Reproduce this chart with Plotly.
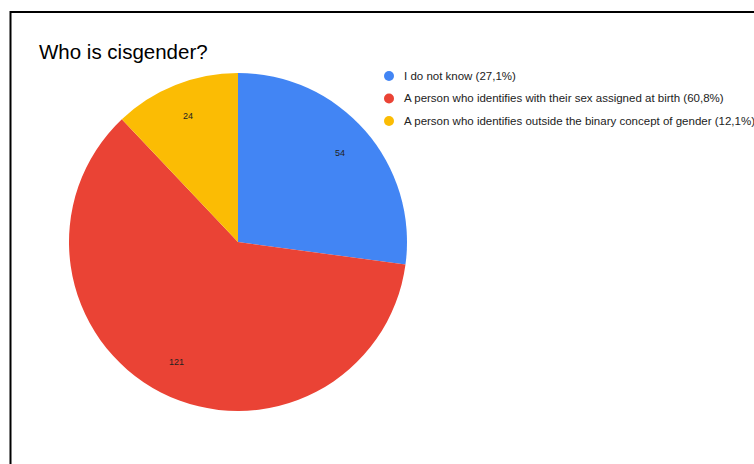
import math
import plotly.graph_objects as go

# Survey answers to "Who is cisgender?"
categories = [
    "I do not know",
    "A person who identifies with their sex assigned at birth",
    "A person who identifies outside the binary concept of gender",
]
counts = [54, 121, 24]
colors = ["#4285F4", "#EA4335", "#FBBC04"]

total = sum(counts)
legend_names = [
    f"{c} ({(v / total * 100):.1f}%)".replace(".", ",") for c, v in zip(categories, counts)
]

W, H = 754, 464
FONT = "Arial, Liberation Sans"

# Pie geometry in pixels (center and radius)
cx, cy, R = 238, 242, 169

fig = go.Figure()

fig.add_trace(go.Pie(
    labels=categories,
    values=counts,
    sort=False,
    direction="clockwise",
    rotation=0,
    marker=dict(colors=colors, line=dict(width=0)),
    textinfo="none",
    showlegend=False,
    hoverinfo="label+value+percent",
    domain=dict(x=[(cx - R) / W, (cx + R) / W], y=[(H - cy - R) / H, (H - cy + R) / H]),
))

annotations = [dict(
    text="Who is cisgender?", x=37 / W, y=(H - 52) / H,
    xref="paper", yref="paper", xanchor="left", yanchor="middle",
    showarrow=False,
    font=dict(family=FONT, size=20.5, color="#000000"),
)]
shapes = [dict(
    type="rect", xref="paper", yref="paper",
    x0=10.5 / W, x1=1.05, y0=-0.05, y1=(H - 12) / H,
    line=dict(color="#000000", width=2),
)]

# Value labels placed along each slice's bisector at 80% of the radius
cum = 0
for v in counts:
    mid = (cum + v / 2) / total * 2 * math.pi
    cum += v
    px = cx + 0.8 * R * math.sin(mid)
    py = cy - 0.8 * R * math.cos(mid)
    annotations.append(dict(
        text=str(v), x=px / W, y=(H - py) / H, xref="paper", yref="paper",
        xanchor="center", yanchor="middle", showarrow=False,
        font=dict(family=FONT, size=9, color="#222222"),
    ))

# Legend with round swatches
lx, ly0, dy = 389, 76, 22.5
for i, (name, col) in enumerate(zip(legend_names, colors)):
    yy = ly0 + i * dy
    shapes.append(dict(
        type="circle", xref="paper", yref="paper",
        x0=(lx - 5) / W, x1=(lx + 5) / W, y0=(H - yy - 5) / H, y1=(H - yy + 5) / H,
        fillcolor=col, line=dict(width=0),
    ))
    annotations.append(dict(
        text=name, x=(lx + 13) / W, y=(H - yy) / H, xref="paper", yref="paper",
        xanchor="left", yanchor="middle", showarrow=False,
        font=dict(family=FONT, size=11.5, color="#222222"),
    ))

fig.update_layout(
    width=W, height=H,
    margin=dict(l=0, r=0, t=0, b=0),
    paper_bgcolor="white",
    plot_bgcolor="white",
    annotations=annotations,
    shapes=shapes,
)

fig.write_html("out.html")
